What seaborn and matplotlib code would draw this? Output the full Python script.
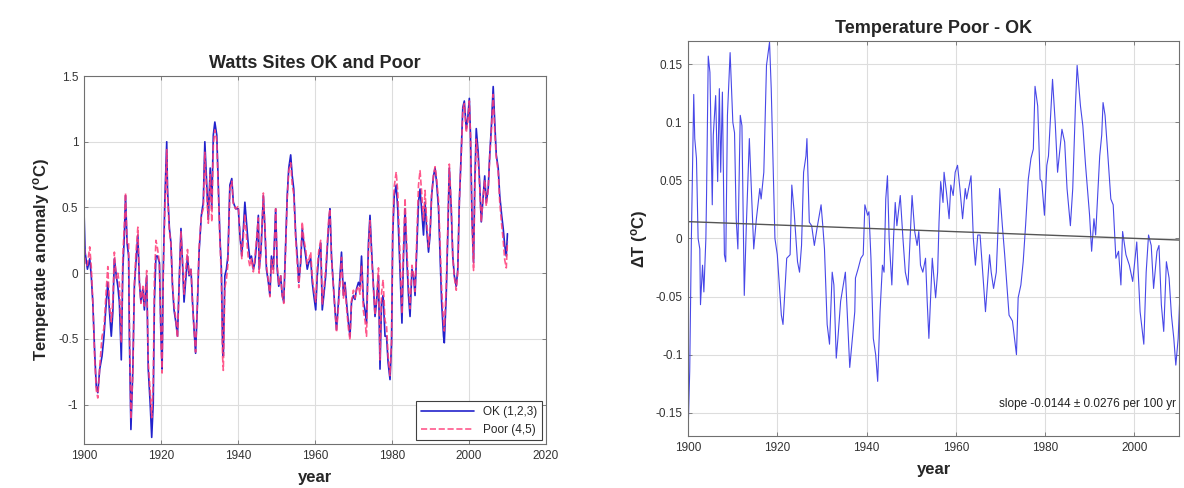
import matplotlib
matplotlib.use('Agg')
import matplotlib.pyplot as plt
import seaborn as sns
import numpy as np
from matplotlib.ticker import FuncFormatter

# Left panel: OK (1,2,3) and Poor (4,5) temperature anomaly, deg C
years_ok = [1900.0, 1900.3, 1900.9, 1901.5, 1901.9, 1902.3, 1902.8, 1903.2, 1903.6, 1904.1,
            1904.7, 1905.2, 1905.8, 1906.2, 1906.6, 1907.1, 1907.5, 1907.9, 1908.4, 1908.8,
            1909.2, 1909.7, 1910.1, 1910.5, 1910.8, 1911.2, 1911.6, 1911.8, 1912.2, 1912.7,
            1913.1, 1913.5, 1914.0, 1914.4, 1914.8, 1915.3, 1915.7, 1916.3, 1916.7, 1917.2,
            1917.6, 1918.0, 1918.3, 1918.7, 1919.1, 1919.6, 1920.0, 1920.3, 1920.6, 1921.0,
            1921.5, 1921.7, 1922.2, 1922.6, 1923.0, 1923.4, 1923.9, 1924.3, 1924.7, 1925.2,
            1925.6, 1926.0, 1926.5, 1926.9, 1927.3, 1927.8, 1928.2, 1928.6, 1929.0, 1929.5,
            1929.9, 1930.5, 1931.0, 1931.4, 1931.9, 1932.3, 1932.8, 1933.2, 1933.6, 1934.0,
            1934.5, 1934.9, 1935.3, 1935.7, 1936.0, 1936.2, 1936.6, 1937.0, 1937.4, 1937.9,
            1938.4, 1938.8, 1939.4, 1940.1, 1940.5, 1941.0, 1941.4, 1941.8, 1942.3, 1942.7,
            1943.1, 1943.5, 1944.0, 1944.4, 1944.8, 1945.3, 1945.5, 1946.0, 1946.6, 1947.0,
            1947.4, 1947.9, 1948.3, 1948.7, 1949.2, 1949.8, 1950.2, 1950.6, 1951.1, 1951.5,
            1951.9, 1952.4, 1952.8, 1953.2, 1953.7, 1954.1, 1954.5, 1955.0, 1955.4, 1955.8,
            1956.3, 1956.7, 1957.1, 1957.6, 1958.0, 1958.4, 1958.9, 1959.3, 1959.7, 1960.2,
            1960.6, 1961.0, 1961.5, 1961.9, 1962.3, 1962.8, 1963.2, 1963.6, 1963.9, 1964.3,
            1964.8, 1965.2, 1965.6, 1966.1, 1966.5, 1966.9, 1967.4, 1967.8, 1968.2, 1968.7,
            1969.1, 1969.5, 1970.0, 1970.4, 1970.8, 1971.3, 1971.7, 1972.1, 1972.6, 1973.0,
            1973.4, 1973.9, 1974.3, 1974.7, 1975.2, 1975.6, 1976.0, 1976.5, 1976.9, 1977.3,
            1977.7, 1978.2, 1978.6, 1979.0, 1979.5, 1979.9, 1980.2, 1980.6, 1981.1, 1981.5,
            1981.9, 1982.4, 1982.6, 1983.0, 1983.4, 1983.9, 1984.3, 1984.7, 1985.2, 1985.6,
            1986.0, 1986.5, 1986.9, 1987.3, 1987.7, 1988.2, 1988.6, 1989.0, 1989.5, 1989.9,
            1990.3, 1990.8, 1991.2, 1991.6, 1992.1, 1992.5, 1992.9, 1993.4, 1993.6, 1994.1,
            1994.5, 1994.9, 1995.4, 1995.8, 1996.2, 1996.7, 1997.1, 1997.5, 1998.0, 1998.4,
            1998.8, 1999.3, 1999.7, 2000.1, 2000.4, 2000.8, 2001.2, 2001.5, 2001.9, 2002.4,
            2002.8, 2003.2, 2003.7, 2004.1, 2004.5, 2005.0, 2005.4, 2005.8, 2006.3, 2006.7,
            2007.1, 2007.6, 2008.0, 2008.5, 2008.9, 2009.3, 2009.7, 2010.0]

temp_ok = [0.49, 0.16, 0.03, 0.11, -0.02, -0.22, -0.61, -0.86, -0.91, -0.73,
           -0.63, -0.48, -0.22, -0.07, -0.28, -0.48, -0.30, 0.11, -0.02, -0.10,
           -0.22, -0.66, 0.03, 0.29, 0.59, 0.23, 0.13, -0.48, -1.19, -0.73,
           -0.10, 0.08, 0.29, -0.07, -0.22, -0.12, -0.28, -0.02, -0.73, -0.99,
           -1.25, -0.99, -0.22, 0.13, 0.13, 0.08, -0.48, -0.73, 0.03, 0.54,
           1.00, 0.64, 0.34, 0.23, -0.10, -0.28, -0.38, -0.48, -0.10, 0.34,
           0.08, -0.22, -0.02, 0.13, -0.02, 0.03, -0.22, -0.43, -0.61, -0.22,
           0.16, 0.44, 0.54, 1.00, 0.67, 0.41, 0.80, 0.49, 1.05, 1.15,
           1.05, 0.67, 0.29, 0.03, -0.53, -0.63, -0.02, 0.03, 0.13, 0.67,
           0.72, 0.54, 0.49, 0.49, 0.29, 0.13, 0.34, 0.54, 0.36, 0.21,
           0.11, 0.13, 0.03, 0.08, 0.21, 0.44, 0.03, 0.18, 0.59, 0.34,
           0.03, -0.07, -0.17, 0.13, 0.03, 0.49, 0.03, -0.10, -0.02, -0.17,
           -0.22, 0.23, 0.59, 0.80, 0.90, 0.74, 0.64, 0.29, 0.13, -0.07,
           0.08, 0.34, 0.23, 0.13, 0.03, 0.08, 0.11, -0.07, -0.17, -0.28,
           -0.02, 0.13, 0.23, -0.28, -0.17, -0.02, 0.18, 0.39, 0.49, 0.13,
           -0.10, -0.28, -0.43, -0.22, -0.02, 0.16, -0.17, -0.07, -0.22, -0.38,
           -0.48, -0.22, -0.17, -0.20, -0.12, -0.07, -0.10, 0.13, -0.22, -0.28,
           -0.38, 0.23, 0.44, 0.18, -0.10, -0.33, -0.22, -0.02, -0.73, -0.22,
           -0.17, -0.48, -0.48, -0.68, -0.81, -0.53, 0.29, 0.59, 0.67, 0.49,
           0.18, -0.22, -0.38, 0.13, 0.49, 0.08, -0.17, -0.33, 0.03, -0.02,
           -0.17, 0.23, 0.54, 0.64, 0.49, 0.29, 0.54, 0.34, 0.16, 0.29,
           0.59, 0.74, 0.80, 0.69, 0.49, 0.13, -0.22, -0.48, -0.53, -0.17,
           0.29, 0.80, 0.49, 0.13, -0.02, -0.10, 0.03, 0.54, 0.92, 1.26,
           1.31, 1.10, 1.18, 1.33, 1.05, 0.41, 0.08, 0.67, 1.10, 0.92,
           0.67, 0.39, 0.59, 0.74, 0.54, 0.64, 0.90, 1.10, 1.42, 1.15,
           0.90, 0.80, 0.59, 0.44, 0.34, 0.21, 0.13, 0.30]

temp_poor = [0.32, 0.06, 0.06, 0.20, 0.05, -0.22, -0.66, -0.89, -0.95, -0.71,
             -0.48, -0.42, -0.12, 0.05, -0.23, -0.37, -0.21, 0.16, -0.04, 0.00,
             -0.08, -0.53, 0.13, 0.37, 0.61, 0.22, 0.23, -0.38, -1.11, -0.77,
             -0.08, 0.15, 0.35, -0.06, -0.23, -0.10, -0.25, 0.02, -0.68, -0.90,
             -1.10, -0.83, -0.05, 0.25, 0.19, 0.08, -0.49, -0.76, -0.02, 0.47,
             0.94, 0.60, 0.32, 0.22, -0.09, -0.24, -0.36, -0.49, -0.12, 0.32,
             0.09, -0.16, 0.05, 0.18, -0.01, 0.04, -0.23, -0.43, -0.60, -0.20,
             0.19, 0.44, 0.49, 0.92, 0.60, 0.38, 0.75, 0.39, 0.97, 1.09,
             1.01, 0.64, 0.26, -0.04, -0.63, -0.74, -0.11, -0.05, 0.07, 0.64,
             0.70, 0.52, 0.49, 0.51, 0.31, 0.11, 0.27, 0.45, 0.25, 0.11,
             0.05, 0.11, 0.01, 0.12, 0.25, 0.42, 0.00, 0.18, 0.61, 0.36,
             0.06, -0.06, -0.18, 0.10, 0.00, 0.49, 0.07, -0.09, -0.02, -0.17,
             -0.23, 0.20, 0.57, 0.78, 0.84, 0.67, 0.60, 0.26, 0.08, -0.11,
             0.10, 0.39, 0.26, 0.18, 0.07, 0.10, 0.16, -0.03, -0.12, -0.22,
             0.04, 0.17, 0.25, -0.24, -0.13, 0.03, 0.23, 0.42, 0.49, 0.11,
             -0.10, -0.28, -0.45, -0.26, -0.08, 0.12, -0.19, -0.09, -0.26, -0.42,
             -0.51, -0.21, -0.13, -0.19, -0.13, -0.10, -0.16, 0.06, -0.29, -0.36,
             -0.48, 0.18, 0.40, 0.14, -0.12, -0.32, -0.19, 0.04, -0.66, -0.15,
             -0.05, -0.36, -0.40, -0.63, -0.78, -0.51, 0.34, 0.66, 0.77, 0.62,
             0.30, -0.13, -0.31, 0.20, 0.57, 0.17, -0.09, -0.27, 0.06, -0.01,
             -0.14, 0.31, 0.67, 0.78, 0.62, 0.40, 0.63, 0.41, 0.20, 0.31,
             0.59, 0.75, 0.81, 0.72, 0.55, 0.21, -0.11, -0.37, -0.44, -0.10,
             0.34, 0.83, 0.51, 0.12, -0.03, -0.13, 0.00, 0.54, 0.90, 1.24,
             1.29, 1.07, 1.15, 1.31, 1.05, 0.39, 0.02, 0.60, 1.02, 0.86,
             0.65, 0.39, 0.59, 0.71, 0.51, 0.63, 0.89, 1.07, 1.36, 1.08,
             0.88, 0.77, 0.54, 0.37, 0.25, 0.10, 0.04, 0.24]

# Right panel: Poor - OK difference, deg C
years_diff = [1900.0, 1900.38, 1900.75, 1901.28, 1901.51, 1901.89, 1902.26, 1902.64, 1902.79, 1903.25,
              1903.55, 1904.0, 1904.15, 1904.53, 1904.91, 1905.43, 1905.66, 1906.19, 1906.64, 1907.02,
              1907.32, 1907.7, 1908.15, 1908.45, 1908.83, 1909.43, 1910.04, 1910.42, 1910.79, 1911.17,
              1911.7, 1912.08, 1912.6, 1913.06, 1913.74, 1914.72, 1915.32, 1916.08, 1916.38, 1916.98,
              1917.58, 1918.26, 1918.64, 1919.47, 1920.0, 1920.45, 1920.91, 1921.28, 1922.11, 1922.87,
              1923.25, 1923.77, 1924.53, 1924.98, 1925.43, 1925.89, 1926.42, 1926.64, 1927.17, 1927.7,
              1928.3, 1928.91, 1929.81, 1930.19, 1930.57, 1931.17, 1931.7, 1932.3, 1932.68, 1933.21,
              1933.58, 1934.19, 1935.25, 1936.23, 1937.36, 1937.51, 1938.11, 1938.72, 1939.25, 1939.62,
              1940.23, 1940.53, 1940.98, 1941.51, 1942.04, 1942.49, 1943.02, 1943.55, 1943.92, 1944.3,
              1944.68, 1945.06, 1945.66, 1946.04, 1946.42, 1946.79, 1947.55, 1948.15, 1948.68, 1949.28,
              1949.58, 1950.19, 1950.79, 1951.32, 1951.7, 1952.08, 1952.6, 1953.21, 1953.58, 1953.96,
              1954.34, 1954.72, 1955.47, 1955.92, 1956.23, 1956.6, 1957.13, 1957.36, 1957.89, 1958.49,
              1958.87, 1959.4, 1959.85, 1960.38, 1960.91, 1961.51, 1962.11, 1962.42, 1963.4, 1963.92,
              1964.38, 1964.91, 1965.43, 1966.64, 1967.55, 1967.92, 1968.45, 1969.06, 1969.81, 1970.42,
              1970.94, 1971.92, 1972.68, 1973.58, 1973.96, 1974.57, 1975.09, 1975.62, 1976.23, 1976.83,
              1977.36, 1977.74, 1978.34, 1978.87, 1979.25, 1979.85, 1980.38, 1980.75, 1981.66, 1982.26,
              1982.79, 1983.17, 1983.77, 1984.38, 1984.91, 1985.66, 1986.19, 1986.79, 1987.17, 1987.92,
              1988.45, 1989.06, 1989.96, 1990.42, 1990.94, 1991.32, 1992.23, 1992.68, 1992.98, 1993.43,
              1993.96, 1994.72, 1995.25, 1995.85, 1996.45, 1996.98, 1997.36, 1998.11, 1998.87, 1999.62,
              2000.53, 2001.28, 2002.11, 2002.64, 2003.17, 2003.77, 2004.3, 2005.06, 2005.51, 2006.04,
              2006.57, 2007.17, 2007.77, 2008.3, 2008.83, 2009.28, 2009.81, 2010.19]

temp_diff = [-0.169, -0.114, 0.0, 0.124, 0.086, 0.069, 0.0, -0.009, -0.057, -0.023,
             -0.046, 0.0, 0.037, 0.157, 0.143, 0.029, 0.089, 0.123, 0.049, 0.129,
             0.057, 0.126, -0.014, -0.02, 0.106, 0.16, 0.1, 0.091, 0.017, -0.009,
             0.106, 0.097, -0.049, 0.011, 0.086, -0.009, 0.017, 0.043, 0.034, 0.057,
             0.149, 0.169, 0.129, 0.0, -0.014, -0.04, -0.066, -0.074, -0.017, -0.014,
             0.046, 0.023, -0.02, -0.029, -0.006, 0.057, 0.071, 0.086, 0.014, 0.011,
             -0.006, 0.009, 0.029, 0.011, -0.009, -0.074, -0.091, -0.029, -0.04, -0.103,
             -0.086, -0.054, -0.029, -0.111, -0.063, -0.034, -0.026, -0.017, -0.014, 0.029,
             0.02, 0.023, -0.017, -0.086, -0.1, -0.123, -0.063, -0.023, -0.029, 0.034,
             0.054, 0.0, -0.04, 0.0, 0.031, 0.011, 0.037, 0.0, -0.029, -0.04,
             -0.014, 0.037, 0.006, -0.006, 0.006, -0.023, -0.029, -0.017, -0.054, -0.086,
             -0.051, -0.017, -0.051, -0.029, 0.014, 0.049, 0.031, 0.057, 0.04, 0.017,
             0.046, 0.037, 0.057, 0.063, 0.043, 0.017, 0.043, 0.034, 0.054, 0.0,
             -0.023, 0.003, 0.003, -0.063, -0.014, -0.029, -0.043, -0.029, 0.043, 0.011,
             -0.014, -0.066, -0.071, -0.1, -0.051, -0.04, -0.02, 0.011, 0.051, 0.069,
             0.077, 0.131, 0.114, 0.051, 0.049, 0.02, 0.063, 0.071, 0.137, 0.1,
             0.057, 0.071, 0.094, 0.083, 0.043, 0.011, 0.043, 0.114, 0.149, 0.114,
             0.097, 0.063, 0.02, -0.011, 0.017, 0.003, 0.071, 0.089, 0.117, 0.106,
             0.077, 0.034, 0.029, -0.017, -0.011, -0.04, 0.006, -0.014, -0.023, -0.037,
             -0.003, -0.063, -0.091, -0.029, 0.003, -0.006, -0.043, -0.011, -0.006, -0.057,
             -0.08, -0.02, -0.034, -0.066, -0.086, -0.109, -0.086, -0.049]

# linear fit printed on the chart
trend_intercept_1900 = 0.0145
trend_slope_per_100yr = -0.0144
trend_err_per_100yr = 0.0276
trend_years = np.array([1900, 2010])
trend_vals = trend_intercept_1900 + trend_slope_per_100yr * (trend_years - 1900) / 100.0

sns.set_theme(style="whitegrid")
plt.rcParams['font.family'] = ['Liberation Sans', 'DejaVu Sans']
plt.rcParams['mathtext.fontset'] = 'custom'
plt.rcParams['mathtext.rm'] = 'Liberation Sans'
plt.rcParams['mathtext.bf'] = 'Liberation Sans:bold'

fig = plt.figure(figsize=(11.84, 4.88), dpi=100)
ax1 = fig.add_axes([0.0709, 0.0902, 0.3902, 0.754])
ax2 = fig.add_axes([0.5811, 0.1066, 0.4147, 0.8094])


def matlab_style(ax):
    ax.set_facecolor('white')
    ax.grid(True, color='#dddddd', linewidth=0.8)
    for s in ax.spines.values():
        s.set_visible(True)
        s.set_color('#707070')
        s.set_linewidth(0.8)
    ax.tick_params(direction='in', length=3, width=0.6, color='#707070',
                   labelsize=8.5, labelcolor='#333333', top=True, right=True,
                   bottom=True, left=True, pad=4)
    ax.yaxis.set_major_formatter(FuncFormatter(lambda v, p: '%g' % round(v, 3)))


# left: OK and Poor
sns.lineplot(x=years_ok, y=temp_ok, ax=ax1, color='#2222cc', linewidth=1.2,
             label='OK (1,2,3)', sort=False)
sns.lineplot(x=years_ok, y=temp_poor, ax=ax1, color='#ff3c78', linewidth=1.2,
             linestyle='--', alpha=0.85, label='Poor (4,5)', sort=False)
ax1.set_xlim(1900, 2020)
ax1.set_ylim(-1.3, 1.5)
ax1.set_xticks(np.arange(1900, 2021, 20))
ax1.set_yticks([-1, -0.5, 0, 0.5, 1, 1.5])
matlab_style(ax1)
ax1.set_title('Watts Sites OK and Poor', fontsize=13, fontweight='bold', pad=6)
ax1.set_xlabel('year', fontsize=12, fontweight='bold', labelpad=6)
ax1.set_ylabel(r'Temperatue anomaly ($\mathbf{^{o}}$C)', fontsize=12, fontweight='bold', labelpad=4)
leg = ax1.legend(loc='lower right', fontsize=8.5, fancybox=False, framealpha=1,
                 edgecolor='#404040', handlelength=4.5, borderaxespad=0.3)
leg.get_frame().set_linewidth(0.8)

# right: Poor - OK
sns.lineplot(x=years_diff, y=temp_diff, ax=ax2, color='#4848e8', linewidth=0.8, sort=False)
sns.lineplot(x=trend_years, y=trend_vals, ax=ax2, color='#555555', linewidth=1.0, sort=False)
ax2.set_xlim(1900, 2010)
ax2.set_ylim(-0.17, 0.17)
ax2.set_xticks(np.arange(1900, 2001, 20))
ax2.set_yticks([-0.15, -0.1, -0.05, 0, 0.05, 0.1, 0.15])
matlab_style(ax2)
ax2.set_title('Temperature Poor - OK', fontsize=13, fontweight='bold', pad=6)
ax2.set_xlabel('year', fontsize=12, fontweight='bold', labelpad=6)
ax2.set_ylabel(r'ΔT ($\mathbf{^{o}}$C)', fontsize=12, fontweight='bold', labelpad=4)
ax2.text(0.994, 0.081, 'slope %.4f \u00b1 %.4f per 100 yr' % (trend_slope_per_100yr, trend_err_per_100yr),
         transform=ax2.transAxes, ha='right', va='center', fontsize=8.5, color='#222222')

fig.savefig('out.png', dpi=100)
